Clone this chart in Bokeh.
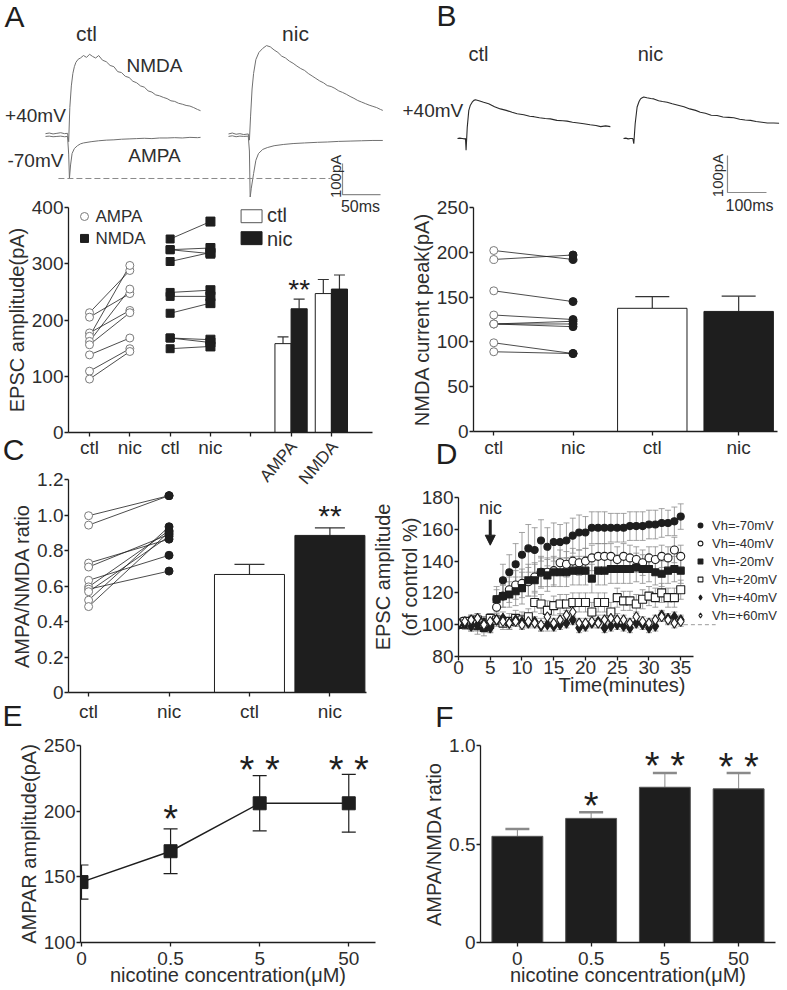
import numpy as np
from bokeh.plotting import figure
from bokeh.layouts import column, row
from bokeh.models import (Range1d, Label, Whisker, TeeHead, ColumnDataSource, LinearAxis,
                          Arrow, NormalHead, Legend, LegendItem, FixedTicker)
from bokeh.embed import file_html
from bokeh.resources import INLINE

FONT = "Liberation Sans"
INK = "#1e1e1e"
TXT = "#2e2e2e"

# ---------------- data ----------------
# A: example EPSC traces (time ms, current pA)
a_ctl_nmda_t = [0, 5, 10, 15, 20, 25, 29, 30.5, 32, 34, 36, 38, 40, 43, 46, 50, 54, 58, 62, 66, 70, 75, 80, 85,
                90, 95, 100, 105, 110, 115, 120, 125, 130, 135, 140, 145, 150, 155, 160, 165, 170, 175, 180,
                185, 190, 195, 200, 204]
a_ctl_nmda_i = [6, 8, 5, 7, 9, 6, 7, -20, 90, 160, 200, 222, 236, 246, 250, 258, 252, 262, 255, 250, 258, 243,
                238, 226, 222, 206, 203, 191, 187, 175, 170, 160, 156, 144, 140, 131, 128, 123, 119, 112, 110,
                104, 101, 97, 95, 90, 84, 80]
a_ctl_ampa_t = [0, 5, 10, 15, 20, 25, 29, 30.5, 31.5, 33, 35, 38, 42, 46, 50, 60, 70, 80, 90, 100, 110, 120,
                130, 140, 150, 160, 170, 180, 190, 200, 204]
a_ctl_ampa_i = [-3, -2, -4, -3, -2, -4, -3, -60, -139, -95, -58, -42, -33, -27, -24, -20, -17, -15, -14, -12,
                -11, -10, -9, -10, -8, -8, -7, -8, -6, -7, -6]
a_nic_nmda_t = [0, 5, 10, 15, 20, 26, 27.5, 29, 31, 33, 36, 40, 45, 50, 55, 60, 65, 70, 75, 80, 85, 90, 95, 100,
                105, 110, 115, 120, 125, 130, 135, 140, 145, 150, 155, 160, 165, 170, 175, 180, 185, 190, 195,
                200, 203]
a_nic_nmda_i = [5, 8, 4, 6, 3, 5, -15, 60, 150, 200, 245, 268, 281, 290, 286, 276, 268, 256, 250, 240, 233, 224,
                216, 210, 200, 192, 184, 176, 170, 161, 158, 152, 144, 139, 133, 126, 120, 113, 108, 103, 98, 94,
                90, 84, 81]
a_nic_ampa_t = [0, 5, 10, 15, 20, 26, 27.5, 28.5, 30, 33, 36, 39.5, 45, 51, 60, 72, 85, 100, 117, 130, 145, 160,
                175, 190, 203]
a_nic_ampa_i = [-3, -1, -4, -2, -3, -2, -50, -200, -170, -123, -80, -58, -45, -39, -33, -29, -26, -24, -22, -21,
                -19, -18, -17, -16, -16]

# B: example NMDA traces at +40 mV
b_ctl_t = [0, 6, 12, 18, 20.5, 22, 25, 29, 33, 37.6, 42, 46, 55, 67, 80, 95, 110, 125, 140, 153, 170, 185, 196,
           210, 225, 238, 255, 270, 281, 295, 310, 324, 340, 355, 367, 380, 392]
b_ctl_i = [0, 1, 0, -1, 0, -32, 30, 76, 90, 98, 103, 104.5, 102, 98, 94, 86, 80, 76, 71, 67, 64, 60, 59, 56, 54,
           53, 49, 48, 47, 44, 42, 40, 37, 35, 32, 34, 32]
b_nic_t = [0, 6, 12, 18, 24, 26.5, 30, 35, 40, 43.6, 48, 52, 60, 70, 78, 90, 100, 112, 125, 140, 155, 170, 185,
           197, 210, 225, 240, 255, 270, 283, 298, 312, 326, 340, 355, 369, 385, 399]
b_nic_i = [0, 1, -1, 0, 0, -14, 40, 85, 100, 107, 110, 112, 110, 108, 107, 102, 100, 98, 94, 90, 86, 80, 76, 71,
           68, 63, 62, 58, 57, 56, 52, 50, 49, 46, 44, 42, 42, 41]

# A: paired amplitudes and means
ampa_ctl = [213, 205, 177, 171, 162, 156, 138, 109, 95]
ampa_nic = [288, 247, 217, 297, 255, 213, 168, 149, 144]
nmda_ctl = [344, 325, 325, 304, 249, 242, 212, 168, 168, 149]
nmda_nic = [375, 328, 318, 320, 253, 242, 230, 165, 160, 153]
a_groups = ["AMPA", "NMDA"]
a_bar_ctl = [158, 247]
a_bar_ctl_err = [12, 25]
a_bar_nic = [220, 255]
a_bar_nic_err = [17, 25]
a_pair_labels = ["ctl", "nic", "ctl", "nic"]

# B: NMDA current peak
b_ctl = [202, 192, 157, 130, 120, 120, 120, 99, 89]
b_nic = [192, 197, 145, 125, 123, 120, 117, 87, 87]
b_bar = [137.5, 134]
b_bar_err = [13, 17]

# C: AMPA/NMDA ratio
c_ctl = [0.996, 0.943, 0.729, 0.707, 0.632, 0.595, 0.582, 0.568, 0.520, 0.484]
c_nic = [1.109, 1.109, 0.864, 0.891, 0.773, 0.912, 0.684, 0.880, 0.934, 0.905]
c_bar = [0.665, 0.885]
c_bar_err = [0.057, 0.043]

# D: time course at different holding potentials
d_time = [0, 1, 2, 3, 4, 5, 6, 7, 8, 9, 10, 11, 12, 13, 14, 15, 16, 17, 18, 19, 20, 21, 22, 23, 24, 25, 26, 27,
          28, 29, 30, 31, 32, 33, 34, 35]
vh_m70 = [100, 101, 100, 102, 100, 101, 116, 128, 133, 138, 144, 148, 147, 153, 149, 152, 152, 153, 156, 158, 158,
          161, 161, 161, 161, 161, 161, 162, 162, 162, 163, 163, 164, 164, 165, 168]
err_m70 = [2, 3, 4, 5, 5, 5, 8, 10, 11, 13, 14, 15, 14, 13, 12, 12, 11, 11, 11, 11, 10, 10, 10, 10, 9, 9, 9, 9, 9,
           9, 9, 9, 9, 8, 9, 8]
vh_m40 = [100, 101, 103, 102, 101, 103, 111, 118, 122, 125, 126, 127, 130, 133, 133, 134, 139, 138, 140, 139, 140,
          142, 143, 143, 143, 141, 143, 142, 141, 139, 142, 141, 143, 142, 147, 143]
err_m40 = [2, 3, 3, 4, 4, 4, 6, 7, 8, 9, 9, 9, 9, 9, 9, 9, 8, 8, 8, 8, 8, 8, 8, 8, 8, 8, 8, 8, 8, 8, 7, 8, 7, 7,
           8, 7]
vh_m20 = [100, 100, 101, 99, 98, 100, 116, 118, 119, 121, 123, 128, 128, 133, 131, 133, 133, 133, 134, 134, 134,
          129, 134, 134, 135, 135, 135, 135, 136, 135, 135, 133, 132, 134, 135, 134]
err_m20 = [2, 3, 4, 5, 5, 5, 6, 7, 8, 9, 10, 10, 10, 10, 10, 9, 9, 9, 9, 9, 9, 9, 9, 9, 9, 9, 9, 9, 9, 9, 8, 8, 8,
           8, 8, 8]
vh_p20 = [101, 102, 100, 103, 101, 104, 103, 101, 102, 104, 103, 105, 114, 113, 109, 112, 113, 113, 114, 114, 114,
          108, 114, 114, 108, 117, 115, 115, 113, 116, 118, 117, 120, 117, 117, 122]
err_p20 = [2, 2, 3, 3, 3, 3, 4, 4, 5, 5, 5, 5, 6, 6, 6, 6, 6, 6, 6, 6, 6, 6, 6, 6, 6, 6, 6, 6, 6, 6, 6, 6, 6, 6,
           6, 6]
vh_p40 = [100, 101, 99, 100, 101, 98, 103, 104, 101, 103, 102, 101, 102, 99, 100, 99, 100, 101, 103, 98, 99, 101,
          102, 98, 99, 100, 99, 98, 101, 100, 98, 99, 106, 104, 105, 103]
err_p40 = [2, 3, 3, 4, 3, 3, 3, 4, 3, 3, 4, 3, 3, 3, 4, 3, 3, 3, 3, 3, 3, 3, 4, 3, 3, 3, 3, 3, 3, 3, 3, 3, 3, 3,
           3, 3]
vh_p60 = [101, 102, 103, 104, 100, 102, 103, 102, 101, 102, 100, 102, 101, 100, 105, 101, 103, 106, 108, 101, 101,
          102, 101, 103, 104, 103, 103, 101, 105, 102, 101, 103, 105, 103, 101, 102]
err_p60 = [2, 3, 3, 3, 4, 3, 3, 3, 4, 3, 3, 3, 3, 4, 3, 3, 3, 3, 3, 3, 3, 3, 3, 3, 3, 4, 3, 3, 3, 3, 3, 3, 3, 3,
           3, 3]
vh_labels = ["Vh=-70mV", "Vh=-40mV", "Vh=-20mV", "Vh=+20mV", "Vh=+40mV", "Vh=+60mV"]

# E: AMPAR amplitude vs nicotine concentration
conc_labels = ["0", "0.5", "5", "50"]
e_mean = [146, 169.5, 206, 206]
e_err = [13, 17, 21, 22]
e_sig = ["", "*", "* *", "* *"]

# F: AMPA/NMDA ratio vs nicotine concentration
f_mean = [0.539, 0.630, 0.788, 0.780]
f_err = [0.037, 0.031, 0.073, 0.081]
f_sig = ["", "*", "* *", "* *"]


# ---------------- helpers ----------------
def make_fig(w, h, xr, yr, ml=0, mr=0, mt=0, mb=0, axes=True, **extra):
    kw = dict(extra)
    if not axes:
        kw.update(x_axis_type=None, y_axis_type=None)
    p = figure(width=w, height=h, x_range=Range1d(*xr), y_range=Range1d(*yr),
               min_border_left=ml, min_border_right=mr, min_border_top=mt, min_border_bottom=mb,
               toolbar_location=None, output_backend="svg", **kw)
    p.outline_line_color = None
    p.xgrid.visible = False
    p.ygrid.visible = False
    try:
        p.frame_align = False
    except Exception:
        pass
    if axes:
        for ax in p.axis:
            style_axis(ax)
    return p


def style_axis(ax):
    ax.axis_line_color = INK
    ax.axis_line_width = 1.3
    ax.major_tick_line_color = INK
    ax.major_tick_line_width = 1.3
    ax.major_tick_in = 0
    ax.major_tick_out = 4
    ax.minor_tick_line_color = None
    ax.major_label_text_font = FONT
    ax.major_label_text_font_size = "19px"
    ax.major_label_text_color = TXT
    ax.major_label_standoff = 1
    ax.axis_label_text_font = FONT
    ax.axis_label_text_font_size = "20px"
    ax.axis_label_text_font_style = "normal"
    ax.axis_label_text_color = TXT
    ax.axis_label_standoff = 1


def lab(p, x, y, text, size, align="center", baseline="middle", angle=0.0, color=TXT, xr=None, yr=None):
    kw = {}
    if xr:
        kw["x_range_name"] = xr
    if yr:
        kw["y_range_name"] = yr
    p.add_layout(Label(x=x, y=y, text=text, text_font=FONT, text_font_size=f"{size}px",
                       text_align=align, text_baseline=baseline, angle=angle, text_color=color, **kw))


def whisker(p, xs, lo, hi, head, color=INK, width=1.2, both=False, head_width=None):
    src = ColumnDataSource(dict(x=list(xs), lo=list(lo), hi=list(hi)))
    hw = head_width if head_width else width
    up = TeeHead(size=head, line_color=color, line_width=hw)
    dn = TeeHead(size=head, line_color=color, line_width=hw) if both else None
    p.add_layout(Whisker(source=src, base="x", lower="lo", upper="hi", upper_head=up, lower_head=dn,
                         line_color=color, line_width=width))


# ---------------- top row: example traces (A left, B right) ----------------
tr = make_fig(787, 197, (-59.2, 976.3), (-200, 435.5), axes=False)
tr.extra_x_ranges = {"bx": Range1d(-1171.8, 846.2)}
tr.extra_y_ranges = {"by": Range1d(-159.5, 373.0)}
A_NIC_SHIFT = 240.8
B_NIC_SHIFT = 425.6
a_col = "#707070"
tr.line(a_ctl_nmda_t, a_ctl_nmda_i, line_color=a_col, line_width=1)
tr.line(a_ctl_ampa_t, a_ctl_ampa_i, line_color=a_col, line_width=1)
tr.line(list(np.array(a_nic_nmda_t) + A_NIC_SHIFT), a_nic_nmda_i, line_color=a_col, line_width=1)
tr.line(list(np.array(a_nic_ampa_t) + A_NIC_SHIFT), a_nic_ampa_i, line_color=a_col, line_width=1)
tr.line([17, 375], [-138.7, -138.7], line_color="#8a8a8a", line_width=1, line_dash="6 3")
tr.line([390.8, 390.8, 440.8], [-90, -191, -191], line_color="#8a8a8a", line_width=1.2)
b_col = "#2a2a2a"
tr.line(b_ctl_t, b_ctl_i, line_color=b_col, line_width=1.1, x_range_name="bx", y_range_name="by")
tr.line(list(np.array(b_nic_t) + B_NIC_SHIFT), b_nic_i, line_color=b_col, line_width=1.1,
        x_range_name="bx", y_range_name="by")
tr.line([692.3, 692.3, 792.3], [-46, -146, -146], line_color="#8a8a8a", line_width=1.2,
        x_range_name="bx", y_range_name="by")

lab(tr, -40.8, 384, "A", 30, color=INK)
lab(tr, 54, 329, "ctl", 21)
lab(tr, 329, 329, "nic", 21)
lab(tr, 143.4, 226, "NMDA", 19)
lab(tr, 143.4, -64.5, "AMPA", 19)
lab(tr, -13.2, 64.5, "+40mV", 19)
lab(tr, -13.2, -80.6, "-70mV", 19)
lab(tr, 381.6, -132, "100pA", 15, angle=np.pi / 2)
lab(tr, -28.2, 332.4, "B", 30, color=INK, xr="bx", yr="by")
lab(tr, 53.8, 229.7, "ctl", 20, xr="bx", yr="by")
lab(tr, 494.9, 229.7, "nic", 20, xr="bx", yr="by")
lab(tr, -141, 75.7, "+40mV", 19, align="left", xr="bx", yr="by")
lab(tr, 666.7, -100, "100pA", 15, angle=np.pi / 2, xr="bx", yr="by")

# ---------------- A: scatter + bars ----------------
ab = make_fig(380, 273, (0.479, 8.02), (0, 400), ml=68, mr=8, mt=10, mb=38)
ab.yaxis.axis_label = "EPSC amplitude(pA)"
ab.yaxis.ticker = FixedTicker(ticks=[0, 100, 200, 300, 400])
ab.xaxis.ticker = FixedTicker(ticks=[1, 2, 3, 4, 5, 6, 7])
ab.xaxis.major_label_overrides = {1: a_pair_labels[0], 2: a_pair_labels[1], 3: a_pair_labels[2],
                                  4: a_pair_labels[3], 5: "", 6: "", 7: ""}
ab.xaxis.major_label_standoff = 0
n1 = len(ampa_ctl)
n2 = len(nmda_ctl)
ab.segment(x0=[1] * n1, y0=ampa_ctl, x1=[2] * n1, y1=ampa_nic, line_color=INK, line_width=0.8)
ab.segment(x0=[3] * n2, y0=nmda_ctl, x1=[4] * n2, y1=nmda_nic, line_color=INK, line_width=0.8)
ab.scatter([1] * n1, ampa_ctl, marker="circle", size=8, fill_color="white", line_color="#7a7a7a", line_width=1)
ab.scatter([2] * n1, ampa_nic, marker="circle", size=8, fill_color="white", line_color="#7a7a7a", line_width=1)
ab.scatter([3] * n2, nmda_ctl, marker="square", size=8, fill_color=INK, line_color=INK)
ab.scatter([4] * n2, nmda_nic, marker="square", size=9, fill_color=INK, line_color=INK)
grp_pos = [6, 7]
xc = [g - 0.2 for g in grp_pos]
xn = [g + 0.2 for g in grp_pos]
ab.vbar(x=xc, width=0.4, top=a_bar_ctl, bottom=0, fill_color="white", line_color=INK, line_width=1)
ab.vbar(x=xn, width=0.4, top=a_bar_nic, bottom=0, fill_color=INK, line_color=INK, line_width=1)
whisker(ab, xc, a_bar_ctl, [m + e for m, e in zip(a_bar_ctl, a_bar_ctl_err)], 11, color="#333333")
whisker(ab, xn, a_bar_nic, [m + e for m, e in zip(a_bar_nic, a_bar_nic_err)], 11, color="#333333")
lab(ab, xn[0], 254, "**", 28, color=INK)
# legends
ab.scatter([0.876], [384], marker="circle", size=8, fill_color="white", line_color="#7a7a7a")
ab.scatter([0.876], [345], marker="square", size=8, fill_color=INK, line_color=INK)
lab(ab, 1.149, 384, "AMPA", 17, align="left")
lab(ab, 1.149, 345, "NMDA", 17, align="left")
ab.quad(left=[4.76], right=[5.28], bottom=[373], top=[396], fill_color="white", line_color="#555555")
ab.quad(left=[4.76], right=[5.28], bottom=[334], top=[357], fill_color=INK, line_color=INK)
lab(ab, 5.40, 386, "ctl", 20, align="left")
lab(ab, 5.40, 344, "nic", 20, align="left")

# ---------------- B: scatter + bars ----------------
bb = make_fig(407, 273, (0.744, 4.58), (0, 250), ml=93, mr=10, mt=10, mb=39)
b_pos = [1, 2, 3, 4.09]
bb.yaxis.axis_label = "NMDA current peak(pA)"
bb.yaxis.ticker = FixedTicker(ticks=[0, 50, 100, 150, 200, 250])
bb.xaxis.ticker = FixedTicker(ticks=b_pos)
bb.xaxis.major_label_overrides = {b_pos[0]: "ctl", b_pos[1]: "nic", b_pos[2]: "ctl", b_pos[3]: "nic"}
nb = len(b_ctl)
bb.segment(x0=[b_pos[0]] * nb, y0=b_ctl, x1=[b_pos[1]] * nb, y1=b_nic, line_color=INK, line_width=0.8)
bb.scatter([b_pos[0]] * nb, b_ctl, marker="circle", size=8, fill_color="white", line_color="#7a7a7a")
bb.scatter([b_pos[1]] * nb, b_nic, marker="circle", size=8, fill_color=INK, line_color=INK)
bb.vbar(x=b_pos[2:], width=0.876, top=b_bar, bottom=0, fill_color=["white", INK], line_color=INK, line_width=1)
whisker(bb, b_pos[2:], b_bar, [m + e for m, e in zip(b_bar, b_bar_err)], 34, color="#333333")

# ---------------- C: AMPA/NMDA ratio ----------------
cf = make_fig(368, 254, (0.75, 4.455), (0, 1.2), ml=68, mr=2, mt=9, mb=27)
cf.yaxis.axis_label = "AMPA/NMDA ratio"
cf.yaxis.ticker = FixedTicker(ticks=[0, 0.2, 0.4, 0.6, 0.8, 1.0, 1.2])
cf.yaxis.major_label_overrides = {0: "0", 1: "1.0"}
cf.xaxis.ticker = FixedTicker(ticks=[1, 2, 3, 4])
cf.xaxis.major_label_overrides = {1: "ctl", 2: "nic", 3: "ctl", 4: "nic"}
cf.xaxis.major_label_standoff = 4
nc = len(c_ctl)
cf.segment(x0=[1] * nc, y0=c_ctl, x1=[2] * nc, y1=c_nic, line_color=INK, line_width=0.8)
cf.scatter([1] * nc, c_ctl, marker="circle", size=8, fill_color="white", line_color="#7a7a7a")
cf.scatter([2] * nc, c_nic, marker="circle", size=8, fill_color=INK, line_color=INK)
cf.vbar(x=[3, 4], width=0.87, top=c_bar, bottom=0, fill_color=["white", INK], line_color=INK, line_width=1)
whisker(cf, [3, 4], c_bar, [m + e for m, e in zip(c_bar, c_bar_err)], 30, color="#333333")
lab(cf, 4, 0.995, "**", 30, color=INK)

# ---------------- D: time course ----------------
df = make_fig(419, 254, (0, 51.5), (80, 180), ml=90, mr=2, mt=27, mb=68)
df.xaxis.bounds = (0, 37)
df.xaxis.ticker = FixedTicker(ticks=[0, 5, 10, 15, 20, 25, 30, 35])
df.yaxis.ticker = FixedTicker(ticks=[80, 100, 120, 140, 160, 180])
df.xaxis.axis_label = "Time(minutes)"
df.xaxis.major_label_standoff = 0
df.xaxis.axis_label_standoff = -3
df.yaxis.axis_label = "(of control %)"
df.yaxis.axis_label_standoff = -2
ylab2 = LinearAxis(ticker=FixedTicker(ticks=[]), axis_label="EPSC amplitude")
style_axis(ylab2)
ylab2.axis_line_color = None
ylab2.major_tick_out = 0
ylab2.major_label_standoff = 0
ylab2.axis_label_standoff = 2
df.add_layout(ylab2, "left")
series = [(vh_m70, err_m70, "circle", INK, 7), (vh_m40, err_m40, "circle", "white", 8),
          (vh_m20, err_m20, "square", INK, 7), (vh_p20, err_p20, "square", "white", 8),
          (vh_p40, err_p40, "diamond", INK, 10), (vh_p60, err_p60, "diamond", "white", 10)]
for vals, errs, _, _, _ in series:
    whisker(df, d_time, [v - e for v, e in zip(vals, errs)], [v + e for v, e in zip(vals, errs)], 6,
            color="#8c8c8c", width=0.8, both=True)
df.line([35.5, 40.5], [100, 100], line_color="#9a9a9a", line_dash="4 3", line_width=1)
rends = []
for vals, errs, mk, fc, sz in series:
    rends.append(df.scatter(d_time, vals, marker=mk, size=sz, fill_color=fc, line_color=INK, line_width=1.1))
leg = Legend(items=[LegendItem(label=l, renderers=[r]) for l, r in zip(vh_labels, rends)],
             location=(236, 33), border_line_color=None, background_fill_alpha=0, padding=0, margin=0,
             glyph_width=12, glyph_height=16, label_height=16, spacing=2, label_standoff=6,
             label_text_font=FONT, label_text_font_size="13px", label_text_color=TXT)
df.add_layout(leg)
df.add_layout(Arrow(end=NormalHead(size=10, fill_color=INK, line_color=INK), x_start=5, y_start=166,
                    x_end=5, y_end=150, line_width=3, line_color=INK))
lab(df, 5.04, 173.7, "nic", 18)

# ---------------- E: AMPAR amplitude ----------------
ef = make_fig(376, 266, (-0.011, 3.30), (100, 250), ml=80, mr=1, mt=21, mb=48)
e_pos = [0, 1, 2, 3]
ef.xaxis.ticker = FixedTicker(ticks=e_pos)
ef.xaxis.major_label_overrides = {p: l for p, l in zip(e_pos, conc_labels)}
ef.yaxis.ticker = FixedTicker(ticks=[100, 150, 200, 250])
ef.xaxis.axis_label = "nicotine concentration(μM)"
ef.yaxis.axis_label = "AMPAR amplitude(pA)"
ef.xaxis.major_label_standoff = 5
ef.xaxis.axis_label_standoff = -4
whisker(ef, e_pos, [m - e for m, e in zip(e_mean, e_err)], [m + e for m, e in zip(e_mean, e_err)], 14,
        color=INK, width=1.2, both=True)
ef.line(e_pos, e_mean, line_color=INK, line_width=1.5)
ef.scatter(e_pos, e_mean, marker="square", size=13, fill_color=INK, line_color=INK)
for p_, s_, y_ in zip(e_pos, e_sig, [0, 194.4, 231.7, 231.7]):
    if s_:
        lab(ef, p_, y_, s_, 38, color=INK)

# ---------------- F: AMPA/NMDA ratio vs concentration ----------------
ff = make_fig(411, 266, (-0.5, 3.5), (0, 1.0), ml=104, mr=12, mt=21, mb=48)
ff.xaxis.ticker = FixedTicker(ticks=e_pos)
ff.xaxis.major_label_overrides = {p: l for p, l in zip(e_pos, conc_labels)}
ff.yaxis.ticker = FixedTicker(ticks=[0, 0.5, 1.0])
ff.yaxis.major_label_overrides = {0: "0", 0.5: "0.5", 1: "1.0"}
ff.xaxis.axis_label = "nicotine concentration(μM)"
ff.yaxis.axis_label = "AMPA/NMDA ratio"
ff.xaxis.major_label_standoff = 5
ff.xaxis.axis_label_standoff = -4
ff.vbar(x=e_pos, width=0.69, top=f_mean, bottom=0, fill_color=INK, line_color="#555555", line_width=1)
whisker(ff, e_pos, f_mean, [m + e for m, e in zip(f_mean, f_err)], 24, color="#8a8a8a", width=1,
        head_width=2.5)
for p_, s_, y_ in zip(e_pos, f_sig, [0, 0.695, 0.898, 0.893]):
    if s_:
        lab(ff, p_, y_, s_, 38, color=INK)

# ---------------- overlay for free-standing labels (page pixel coordinates) ----------------
ov = make_fig(787, 990, (0, 787), (990, 0), axes=False, margin=(-990, 0, 0, 0),
              border_fill_color=None, background_fill_color=None)
lab(ov, 13, 449, "C", 30, color=INK)
lab(ov, 446, 453, "D", 30, color=INK)
lab(ov, 12, 715, "E", 30, color=INK)
lab(ov, 444, 716, "F", 30, color=INK)
lab(ov, 293, 443, a_groups[0], 17, align="right", angle=np.radians(50))
lab(ov, 334, 443, a_groups[1], 17, align="right", angle=np.radians(50))
lab(ov, 360, 206, "50ms", 16)
lab(ov, 749, 205, "100ms", 16)

layout = column(tr, row(ab, bb), row(cf, df), row(ef, ff), ov)
open("out.html", "w").write(file_html(layout, INLINE, "figure"))
